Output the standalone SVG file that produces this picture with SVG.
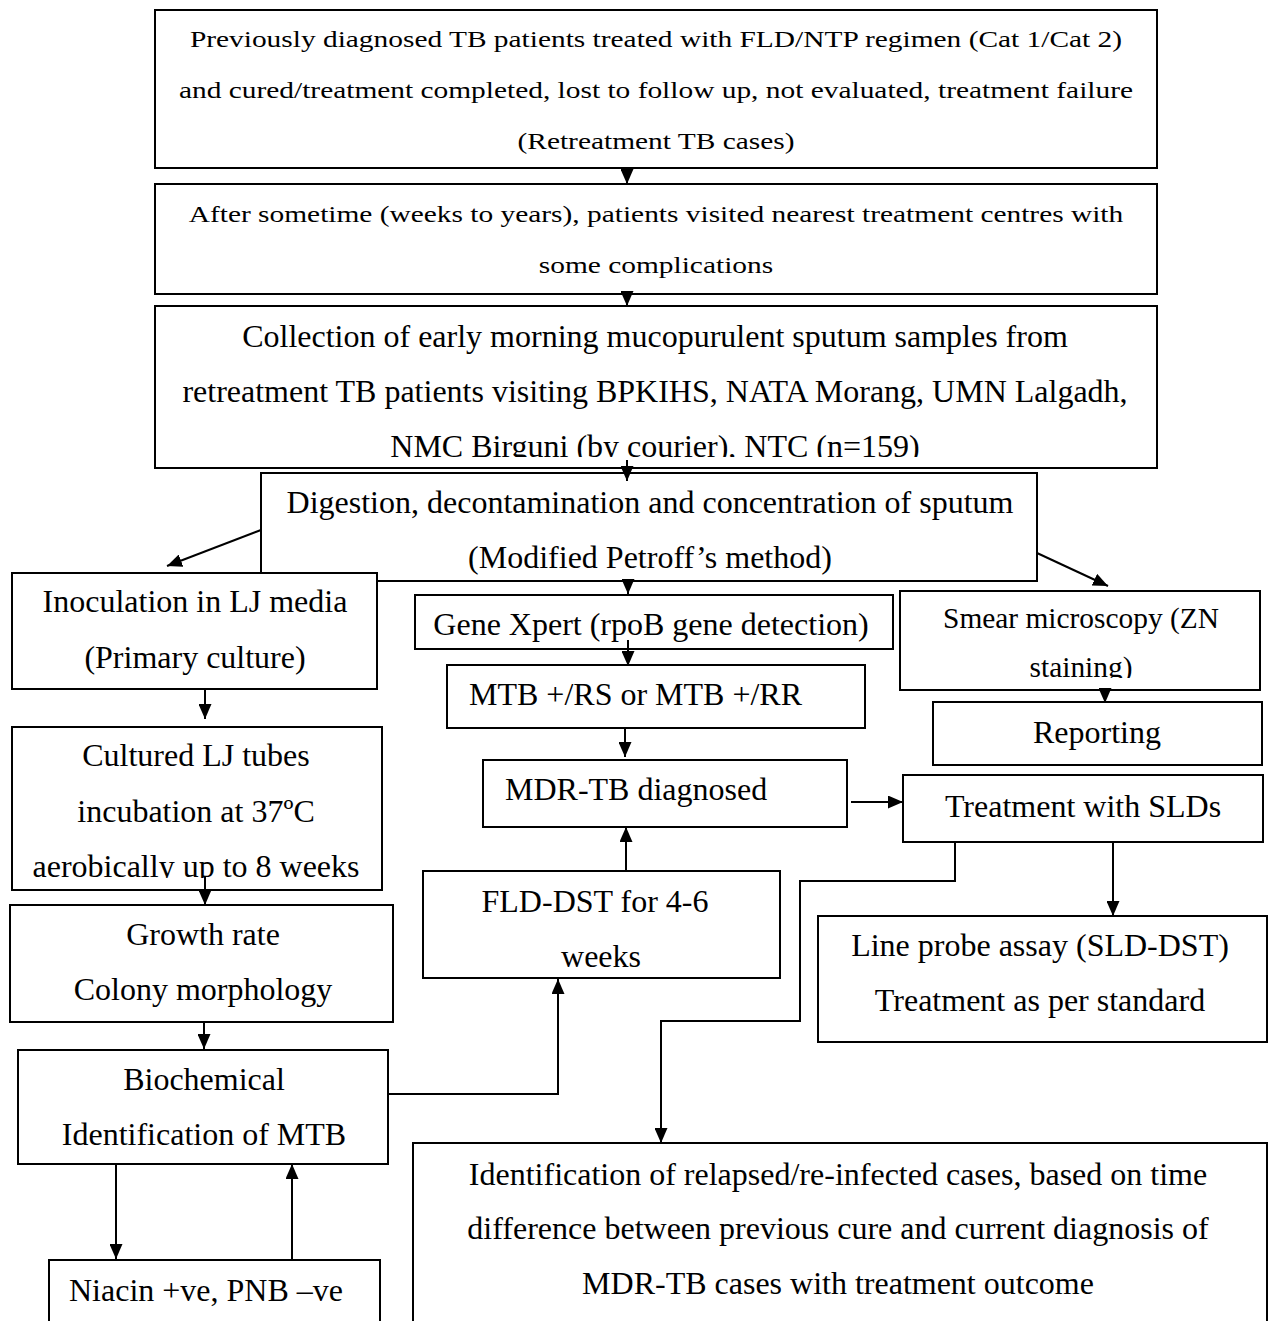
<svg xmlns="http://www.w3.org/2000/svg" width="1269" height="1321" viewBox="0 0 1269 1321">
<style>
.b{fill:#fff;stroke:#000;stroke-width:2}
.t{font-family:"Liberation Serif","Times New Roman",serif;fill:#000;text-anchor:middle}
.s{font-size:24px}
.m{font-size:32px}
.c{fill:none;stroke:#000;stroke-width:2}
</style>
<defs>
<marker id="ah" markerWidth="15" markerHeight="13" refX="15" refY="6.5" orient="auto" markerUnits="userSpaceOnUse"><path d="M0,0 L15,6.5 L0,13 z" fill="#000"/></marker>
<clipPath id="cp3"><rect x="155" y="306" width="1002" height="151"/></clipPath>
<clipPath id="cpc"><rect x="12" y="727" width="370" height="151"/></clipPath>
<clipPath id="cps"><rect x="900" y="591" width="360" height="87"/></clipPath>
</defs>
<rect width="1269" height="1321" fill="#fff"/>
<g id="n1"><rect class="b" x="155" y="10" width="1002" height="158"/>
<g transform="matrix(1.225 0 0 1 -147.6 0)">
<text class="t s" x="656" y="47">Previously diagnosed TB patients treated with FLD/NTP regimen (Cat 1/Cat 2)</text>
<text class="t s" x="656" y="98">and cured/treatment completed, lost to follow up, not evaluated, treatment failure</text>
<text class="t s" x="656" y="149">(Retreatment TB cases)</text></g></g>
<g id="n2"><rect class="b" x="155" y="184" width="1002" height="110"/>
<g transform="matrix(1.225 0 0 1 -147.6 0)">
<text class="t s" x="656" y="222">After sometime (weeks to years), patients visited nearest treatment centres with</text>
<text class="t s" x="656" y="273">some complications</text></g></g>
<g id="n3"><rect class="b" x="155" y="306" width="1002" height="162"/>
<g clip-path="url(#cp3)">
<text class="t m" x="655" y="347">Collection of early morning mucopurulent sputum samples from</text>
<text class="t m" x="655" y="402">retreatment TB patients visiting BPKIHS, NATA Morang, UMN Lalgadh,</text>
<text class="t m" x="655" y="457">NMC Birguni (by courier), NTC (n=159)</text></g></g>
<g id="n4"><rect class="b" x="261" y="473" width="776" height="108"/>
<text class="t m" x="650" y="513">Digestion, decontamination and concentration of sputum</text>
<text class="t m" x="650" y="568">(Modified Petroff’s method)</text></g>
<g id="n5"><rect class="b" x="12" y="573" width="365" height="116"/>
<text class="t m" x="195" y="612">Inoculation in LJ media</text>
<text class="t m" x="195" y="668">(Primary culture)</text></g>
<g id="n6"><rect class="b" x="415" y="595" width="478" height="54"/>
<text class="t m" x="651" y="635">Gene Xpert (rpoB gene detection)</text></g>
<g id="n7"><rect class="b" x="900" y="591" width="360" height="99"/>
<g clip-path="url(#cps)">
<text class="t" style="font-size:29.4px" x="1081" y="628">Smear microscopy (ZN</text>
<text class="t" style="font-size:29.4px" x="1081" y="677">staining)</text></g></g>
<g id="n8"><rect class="b" x="447" y="665" width="418" height="63"/>
<text class="t m" x="469" y="705" style="text-anchor:start">MTB +/RS or MTB +/RR</text></g>
<g id="n9"><rect class="b" x="933" y="702" width="329" height="63"/>
<text class="t m" x="1097" y="743">Reporting</text></g>
<g id="n10"><rect class="b" x="483" y="760" width="364" height="67"/>
<text class="t m" x="505" y="800" style="text-anchor:start">MDR-TB diagnosed</text></g>
<g id="n11"><rect class="b" x="903" y="775" width="360" height="67"/>
<text class="t m" x="1083" y="817">Treatment with SLDs</text></g>
<g id="n12"><rect class="b" x="12" y="727" width="370" height="163"/>
<g clip-path="url(#cpc)">
<text class="t m" x="196" y="766">Cultured LJ tubes</text>
<text class="t m" x="196" y="822">incubation at 37ºC</text>
<text class="t m" x="196" y="877">aerobically up to 8 weeks</text></g></g>
<g id="n13"><rect class="b" x="423" y="871" width="357" height="107"/>
<text class="t m" x="595" y="912">FLD-DST for 4-6</text>
<text class="t m" x="601" y="967">weeks</text></g>
<g id="n14"><rect class="b" x="10" y="905" width="383" height="117"/>
<text class="t m" x="203" y="945">Growth rate</text>
<text class="t m" x="203" y="1000">Colony morphology</text></g>
<g id="n15"><rect class="b" x="818" y="916" width="449" height="126"/>
<text class="t m" x="1040" y="956">Line probe assay (SLD-DST)</text>
<text class="t m" x="1040" y="1011">Treatment as per standard</text></g>
<g id="n16"><rect class="b" x="18" y="1050" width="370" height="114"/>
<text class="t m" x="204" y="1090">Biochemical</text>
<text class="t m" x="204" y="1145">Identification of MTB</text></g>
<g id="n17"><rect class="b" x="49" y="1260" width="331" height="80"/>
<text class="t m" x="206" y="1301">Niacin +ve, PNB –ve</text></g>
<g id="n18"><rect class="b" x="413" y="1143" width="854" height="200"/>
<text class="t m" x="838" y="1185">Identification of relapsed/re-infected cases, based on time</text>
<text class="t m" x="838" y="1239">difference between previous cure and current diagnosis of</text>
<text class="t m" x="838" y="1294">MDR-TB cases with treatment outcome</text></g>
<g id="connectors" class="c">
<path class="c" d="M627,168 V184" marker-end="url(#ah)"/>
<path class="c" d="M627,294 V306" marker-end="url(#ah)"/>
<path class="c" d="M627,460 V481" marker-end="url(#ah)"/>
<path class="c" d="M261,530 L167,566" marker-end="url(#ah)"/>
<path class="c" d="M628,581 V594" marker-end="url(#ah)"/>
<path class="c" d="M1037,553 L1108,586" marker-end="url(#ah)"/>
<path class="c" d="M628,640 V666" marker-end="url(#ah)"/>
<path class="c" d="M625,728 V757" marker-end="url(#ah)"/>
<path class="c" d="M1105,690 V703" marker-end="url(#ah)"/>
<path class="c" d="M851,802 H903" marker-end="url(#ah)"/>
<path class="c" d="M626,871 V827" marker-end="url(#ah)"/>
<path class="c" d="M205,689 V719" marker-end="url(#ah)"/>
<path class="c" d="M205,876 V905" marker-end="url(#ah)"/>
<path class="c" d="M204,1022 V1049" marker-end="url(#ah)"/>
<path class="c" d="M388,1094 H558 V979" marker-end="url(#ah)"/>
<path class="c" d="M116,1164 V1259" marker-end="url(#ah)"/>
<path class="c" d="M292,1260 V1164" marker-end="url(#ah)"/>
<path class="c" d="M1113,842 V916" marker-end="url(#ah)"/>
<path class="c" d="M955,842 V881 H800 V1021 H661 V1143" marker-end="url(#ah)"/>
</g>
</svg>
